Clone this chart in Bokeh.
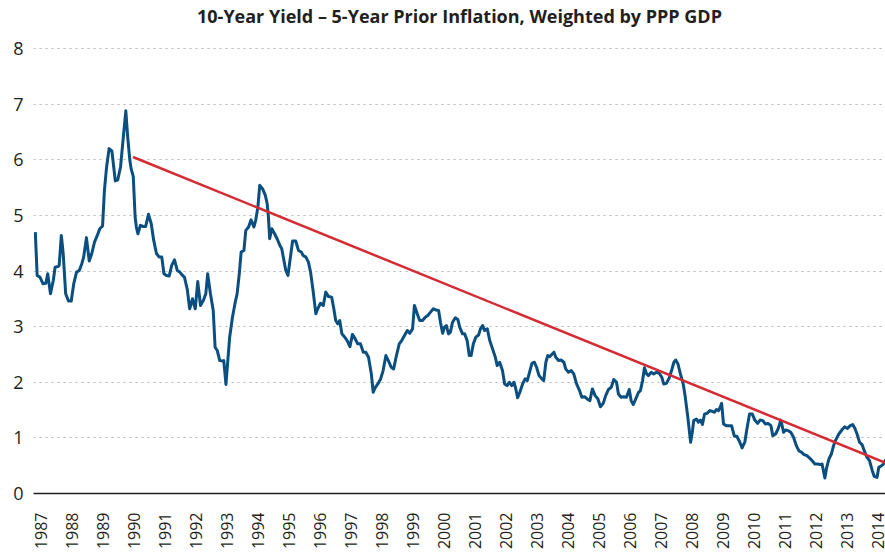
from math import pi
from bokeh.plotting import figure
from bokeh.models import Range1d, FixedTicker, Label
from bokeh.embed import file_html
from bokeh.resources import INLINE

dates = [1986.80, 1986.86, 1986.95, 1987.05, 1987.14, 1987.20, 1987.29, 1987.38, 1987.44, 1987.53,
         1987.57, 1987.64, 1987.70, 1987.78, 1987.87, 1987.96, 1988.04, 1988.13, 1988.22, 1988.30,
         1988.36, 1988.45, 1988.54, 1988.62, 1988.71, 1988.80, 1988.88, 1988.97, 1989.03, 1989.10,
         1989.18, 1989.27, 1989.33, 1989.38, 1989.46, 1989.55, 1989.64, 1989.72, 1989.78, 1989.85,
         1989.89, 1989.96, 1990.02, 1990.06, 1990.11, 1990.19, 1990.28, 1990.36, 1990.45, 1990.54,
         1990.62, 1990.71, 1990.80, 1990.88, 1990.95, 1991.03, 1991.12, 1991.20, 1991.29, 1991.38,
         1991.46, 1991.55, 1991.61, 1991.70, 1991.78, 1991.87, 1991.96, 1992.04, 1992.13, 1992.22,
         1992.30, 1992.36, 1992.45, 1992.54, 1992.60, 1992.67, 1992.75, 1992.84, 1992.88, 1992.95,
         1993.01, 1993.07, 1993.16, 1993.25, 1993.31, 1993.38, 1993.44, 1993.53, 1993.59, 1993.68,
         1993.76, 1993.85, 1993.91, 1993.98, 1994.04, 1994.13, 1994.22, 1994.28, 1994.32, 1994.36,
         1994.43, 1994.52, 1994.60, 1994.69, 1994.75, 1994.82, 1994.88, 1994.95, 1995.03, 1995.10,
         1995.20, 1995.29, 1995.38, 1995.44, 1995.53, 1995.61, 1995.68, 1995.76, 1995.85, 1995.91,
         1996.00, 1996.09, 1996.17, 1996.26, 1996.36, 1996.43, 1996.49, 1996.56, 1996.62, 1996.69,
         1996.77, 1996.86, 1996.95, 1997.03, 1997.12, 1997.20, 1997.29, 1997.38, 1997.46, 1997.55,
         1997.64, 1997.70, 1997.76, 1997.85, 1997.94, 1998.02, 1998.11, 1998.19, 1998.28, 1998.36,
         1998.45, 1998.54, 1998.62, 1998.71, 1998.80, 1998.88, 1998.97, 1999.03, 1999.12, 1999.20,
         1999.29, 1999.38, 1999.46, 1999.55, 1999.64, 1999.72, 1999.81, 1999.87, 1999.94, 2000.00,
         2000.06, 2000.13, 2000.19, 2000.26, 2000.35, 2000.43, 2000.49, 2000.58, 2000.65, 2000.73,
         2000.80, 2000.86, 2000.93, 2001.01, 2001.10, 2001.16, 2001.23, 2001.29, 2001.38, 2001.46,
         2001.55, 2001.64, 2001.70, 2001.78, 2001.87, 2001.94, 2002.02, 2002.09, 2002.17, 2002.24,
         2002.30, 2002.36, 2002.43, 2002.52, 2002.60, 2002.67, 2002.73, 2002.82, 2002.90, 2002.97,
         2003.05, 2003.14, 2003.20, 2003.27, 2003.33, 2003.40, 2003.46, 2003.53, 2003.59, 2003.68,
         2003.76, 2003.85, 2003.91, 2004.00, 2004.09, 2004.17, 2004.26, 2004.35, 2004.43, 2004.52,
         2004.60, 2004.69, 2004.77, 2004.86, 2004.95, 2005.03, 2005.12, 2005.20, 2005.29, 2005.38,
         2005.46, 2005.55, 2005.61, 2005.70, 2005.78, 2005.87, 2005.96, 2006.02, 2006.09, 2006.17,
         2006.26, 2006.32, 2006.39, 2006.45, 2006.52, 2006.58, 2006.67, 2006.75, 2006.84, 2006.93,
         2007.01, 2007.07, 2007.16, 2007.25, 2007.33, 2007.40, 2007.46, 2007.53, 2007.61, 2007.70,
         2007.76, 2007.85, 2007.94, 2008.00, 2008.04, 2008.13, 2008.19, 2008.26, 2008.32, 2008.39,
         2008.47, 2008.56, 2008.62, 2008.71, 2008.77, 2008.84, 2008.90, 2008.94, 2009.00, 2009.09,
         2009.17, 2009.26, 2009.35, 2009.43, 2009.52, 2009.60, 2009.69, 2009.75, 2009.84, 2009.93,
         2010.01, 2010.10, 2010.18, 2010.27, 2010.35, 2010.44, 2010.53, 2010.59, 2010.68, 2010.76,
         2010.85, 2010.94, 2011.00, 2011.09, 2011.17, 2011.26, 2011.35, 2011.43, 2011.52, 2011.60,
         2011.69, 2011.77, 2011.86, 2011.95, 2012.03, 2012.12, 2012.18, 2012.27, 2012.33, 2012.40,
         2012.48, 2012.55, 2012.61, 2012.72, 2012.83, 2012.91, 2013.00, 2013.09, 2013.17, 2013.24,
         2013.32, 2013.39, 2013.47, 2013.54, 2013.62, 2013.71, 2013.80, 2013.86, 2013.95, 2014.01,
         2014.10, 2014.16, 2014.23]

values = [4.70, 3.92, 3.89, 3.77, 3.78, 3.95, 3.59, 3.83, 4.07, 4.08,
          4.10, 4.64, 4.31, 3.59, 3.46, 3.46, 3.77, 3.98, 4.01, 4.13,
          4.25, 4.60, 4.18, 4.31, 4.52, 4.64, 4.76, 4.81, 5.45, 5.87,
          6.20, 6.16, 5.87, 5.62, 5.64, 5.87, 6.41, 6.88, 6.41, 5.99,
          5.84, 5.70, 4.97, 4.79, 4.67, 4.82, 4.80, 4.80, 5.02, 4.85,
          4.55, 4.31, 4.25, 4.25, 3.95, 3.92, 3.91, 4.10, 4.20, 4.01,
          3.98, 3.92, 3.89, 3.68, 3.32, 3.50, 3.32, 3.81, 3.38, 3.47,
          3.59, 3.95, 3.59, 3.29, 2.63, 2.57, 2.39, 2.38, 2.39, 1.96,
          2.39, 2.81, 3.17, 3.44, 3.59, 3.95, 4.34, 4.37, 4.73, 4.79,
          4.92, 4.79, 4.91, 5.15, 5.54, 5.48, 5.36, 5.21, 4.97, 4.58,
          4.76, 4.67, 4.58, 4.46, 4.40, 4.19, 4.01, 3.92, 4.25, 4.54,
          4.54, 4.37, 4.34, 4.28, 4.25, 4.16, 3.98, 3.65, 3.23, 3.32,
          3.42, 3.38, 3.62, 3.54, 3.53, 3.32, 3.11, 3.05, 3.11, 2.87,
          2.82, 2.75, 2.64, 2.86, 2.78, 2.69, 2.69, 2.54, 2.54, 2.45,
          2.15, 1.82, 1.90, 1.97, 2.06, 2.21, 2.48, 2.39, 2.27, 2.24,
          2.48, 2.69, 2.75, 2.84, 2.93, 2.88, 2.96, 3.38, 3.23, 3.11,
          3.11, 3.17, 3.20, 3.26, 3.32, 3.30, 3.29, 3.08, 2.88, 2.99,
          3.02, 2.87, 2.90, 3.08, 3.16, 3.13, 2.99, 2.87, 2.87, 2.75,
          2.48, 2.48, 2.69, 2.81, 2.85, 2.96, 3.02, 2.93, 2.96, 2.75,
          2.60, 2.45, 2.30, 2.36, 2.21, 1.97, 1.94, 2.00, 1.94, 2.00,
          1.88, 1.72, 1.82, 1.97, 2.06, 2.03, 2.15, 2.34, 2.36, 2.27,
          2.12, 2.06, 2.03, 2.36, 2.48, 2.46, 2.50, 2.54, 2.45, 2.39,
          2.40, 2.36, 2.24, 2.18, 2.21, 2.15, 1.97, 1.86, 1.73, 1.74,
          1.70, 1.67, 1.88, 1.76, 1.70, 1.56, 1.62, 1.76, 1.87, 1.91,
          2.05, 2.00, 1.79, 1.73, 1.74, 1.73, 1.87, 1.67, 1.60, 1.70,
          1.82, 1.85, 2.03, 2.26, 2.15, 2.12, 2.18, 2.15, 2.18, 2.16,
          2.09, 1.97, 1.98, 2.08, 2.22, 2.36, 2.40, 2.33, 2.15, 1.97,
          1.76, 1.37, 0.92, 1.13, 1.31, 1.34, 1.28, 1.32, 1.24, 1.43,
          1.44, 1.49, 1.48, 1.46, 1.51, 1.49, 1.56, 1.62, 1.25, 1.22,
          1.22, 1.22, 1.03, 1.03, 0.93, 0.82, 0.93, 1.14, 1.43, 1.43,
          1.32, 1.26, 1.32, 1.31, 1.25, 1.26, 1.22, 1.04, 1.07, 1.16,
          1.32, 1.10, 1.14, 1.13, 1.10, 1.01, 0.86, 0.77, 0.74, 0.70,
          0.68, 0.64, 0.59, 0.53, 0.53, 0.52, 0.53, 0.28, 0.47, 0.62,
          0.71, 0.86, 0.95, 1.07, 1.15, 1.20, 1.17, 1.22, 1.24, 1.17,
          1.05, 0.92, 0.88, 0.77, 0.66, 0.59, 0.41, 0.31, 0.29, 0.47,
          0.50, 0.53, 0.61]

trend_dates = [1989.95, 2014.23]
trend_values = [6.05, 0.55]

year_ticks = list(range(1987, 2015))
value_ticks = list(range(0, 9))

title_text = "10-Year Yield \u2013 5-Year Prior Inflation, Weighted by PPP GDP"

# layout: the frame reaches the top of the canvas, so the title sits inside it
x_start, x_end = 1986.742, 2014.226
px_per_unit = 55.625           # vertical pixels per percentage point
top_pad = 48                   # pixels between canvas top and the "8" gridline
y_start = 0
y_end = 8 + top_pad / px_per_unit
title_y = 8 + 33 / px_per_unit

p = figure(width=885, height=556, output_backend="svg", toolbar_location=None,
           x_range=Range1d(x_start, x_end), y_range=Range1d(y_start, y_end),
           min_border_left=33, min_border_right=0, min_border_top=0,
           min_border_bottom=63, background_fill_color="white")
p.outline_line_color = None

title_lbl = Label(x=(x_start + x_end) / 2, y=title_y, text=title_text,
                  text_align="center", text_baseline="alphabetic",
                  text_font="Open Sans", text_font_size="18px",
                  text_font_style="bold", text_color="#231f20")
p.add_layout(title_lbl)

p.line(dates, values, line_color="#0b4f80", line_width=3, line_join="round")
p.line(trend_dates, trend_values, line_color="#d52b33", line_width=2.5)

p.xgrid.grid_line_color = None
p.ygrid.ticker = FixedTicker(ticks=value_ticks)
p.ygrid.grid_line_color = "#b5b5b5"
p.ygrid.grid_line_dash = "2 4"
p.ygrid.grid_line_width = 1.2

xa = p.xaxis[0]
xa.ticker = FixedTicker(ticks=year_ticks)
xa.major_label_orientation = pi / 2
xa.axis_line_color = "#231f20"
xa.axis_line_width = 1.5
xa.major_tick_line_color = None
xa.minor_tick_line_color = None
xa.major_tick_out = 0
xa.major_tick_in = 0
xa.minor_tick_out = 0
xa.minor_tick_in = 0
xa.major_label_standoff = 19
xa.major_label_text_font = "Open Sans"
xa.major_label_text_font_size = "16px"
xa.major_label_text_color = "#231f20"

ya = p.yaxis[0]
ya.ticker = FixedTicker(ticks=value_ticks)
ya.axis_line_color = None
ya.major_tick_line_color = None
ya.minor_tick_line_color = None
ya.major_tick_out = 0
ya.major_tick_in = 0
ya.minor_tick_out = 0
ya.minor_tick_in = 0
ya.major_label_standoff = 10
ya.major_label_text_font = "Open Sans"
ya.major_label_text_font_size = "18px"
ya.major_label_text_color = "#231f20"

open("out.html", "w").write(file_html(p, INLINE))
